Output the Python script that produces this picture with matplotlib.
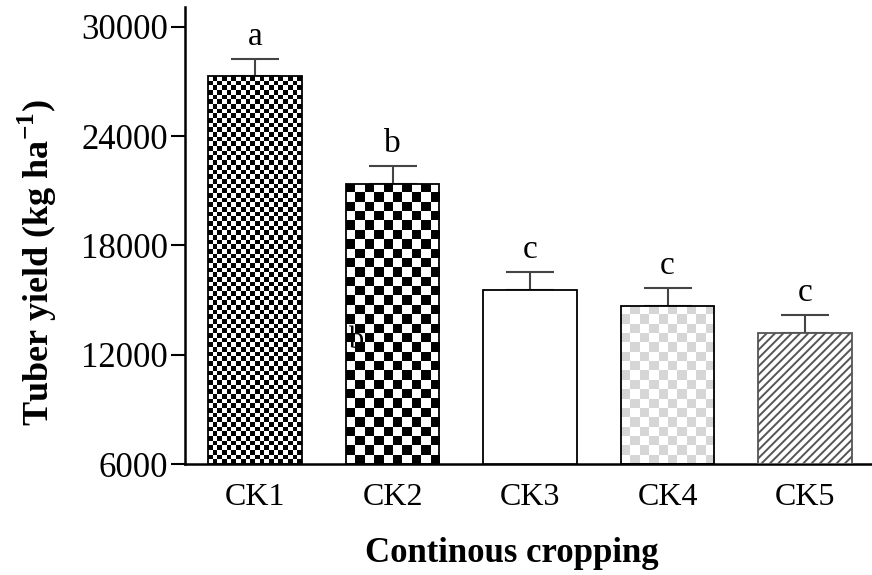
import numpy as np
import matplotlib.pyplot as plt
from matplotlib.colors import ListedColormap

plt.rcParams['font.family'] = ['Liberation Serif', 'DejaVu Serif']
plt.rcParams['mathtext.fontset'] = 'custom'
plt.rcParams['mathtext.rm'] = 'Liberation Serif'
plt.rcParams['mathtext.bf'] = 'Liberation Serif:bold'
plt.rcParams['hatch.linewidth'] = 1.4

# data
groups = ['CK1', 'CK2', 'CK3', 'CK4', 'CK5']
yield_mean = [27300, 21380, 15550, 14680, 13190]
yield_err = [950, 980, 1000, 980, 990]
letters = ['a', 'b', 'c', 'c', 'c']

fig = plt.figure(figsize=(8.72, 5.75), dpi=100)
ax = fig.add_axes([0.212, 0.193, 0.787, 0.795])

x = np.arange(len(groups))
width = 0.68
base = 6000
ax.set_xlim(-0.51, 4.48)
ax.set_ylim(base, 31100)

bars = ax.bar(x, np.array(yield_mean) - base, bottom=base, width=width,
              color='white', edgecolor='black', linewidth=1.3, zorder=3)
bars[4].set_hatch('////')
bars[4].set_edgecolor('#555555')

ax.errorbar(x, yield_mean, yerr=[np.zeros(len(x)), yield_err], fmt='none',
            ecolor='#444444', elinewidth=1.5, capsize=17, capthick=1.5, zorder=2)

# checkerboard fills: (bar index, cell size px, dark colour)
fig.canvas.draw()
px_per_x = ax.transData.transform((1, 0))[0] - ax.transData.transform((0, 0))[0]
px_per_y = ax.transData.transform((0, 1000))[1] - ax.transData.transform((0, 0))[1]
checks = [(0, 4.7, 'black'), (1, 9.3, 'black'), (3, 9.3, '#d6d6d6')]
for i, cell, dark in checks:
    b = bars[i]
    b.set_facecolor('none')
    x0, w = b.get_x(), b.get_width()
    h = b.get_height()
    nx = max(1, int(round(w * px_per_x / cell)))
    ny = max(1, int(round(h / 1000 * px_per_y / cell)))
    yy, xx = np.indices((ny, nx))
    board = (xx + yy) % 2
    im = ax.imshow(board, cmap=ListedColormap(['white', dark]),
                   extent=(x0, x0 + w, base, base + h), aspect='auto',
                   interpolation='nearest', zorder=2.5, origin='lower')
    im.set_clip_path(b)

# stray label sitting on the CK2 pattern
ax.text(x[1] - 0.27, 12810, 'b', fontsize=22, ha='center', va='center', zorder=2.6)

for xi, m, e, lab in zip(x, yield_mean, yield_err, letters):
    ax.annotate(lab, (xi, m + e), xytext=(0, 5), textcoords='offset points',
                ha='center', va='bottom', fontsize=24)

ax.set_yticks(range(6000, 30001, 6000))
ax.set_xticks(x)
ax.set_xticklabels(groups)
ax.set_xticks([2], minor=True)
ax.tick_params(axis='x', which='major', length=0, pad=14, labelsize=23)
ax.tick_params(axis='x', which='minor', length=9, width=1.5)
ax.tick_params(axis='y', length=10, width=1.5, labelsize=25, pad=2)

for s in ['top', 'right']:
    ax.spines[s].set_visible(False)
for s in ['left', 'bottom']:
    ax.spines[s].set_linewidth(1.8)

ax.set_ylabel('Tuber yield (kg ha$^{\\mathbf{-1}}$)', fontsize=26, fontweight='bold')
ax.yaxis.set_label_coords(-0.183, 0.44)
ax.set_xlabel('Continous cropping', fontsize=25, fontweight='bold')
ax.xaxis.set_label_coords(0.477, -0.16)

fig.savefig('out.png', dpi=100)
